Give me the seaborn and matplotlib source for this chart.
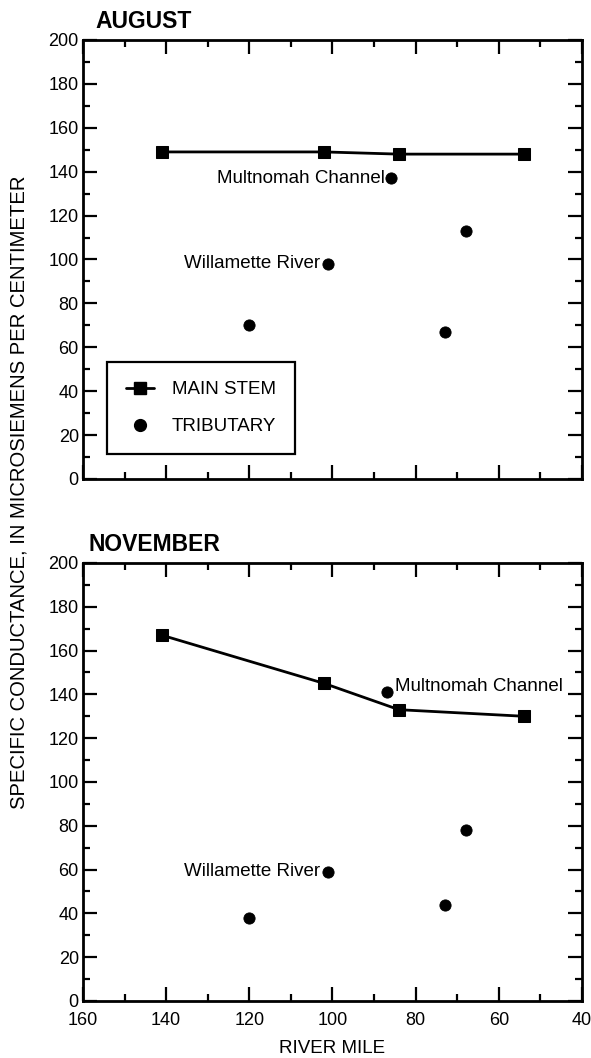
import numpy as np
import pandas as pd
import matplotlib
matplotlib.use("Agg")
import matplotlib.pyplot as plt
from matplotlib.lines import Line2D
from matplotlib.ticker import MultipleLocator
import seaborn as sns

sns.set_theme(style="white")
plt.rcParams["font.family"] = ["Liberation Sans", "DejaVu Sans"]
plt.rcParams.update({
    "text.color": "black",
    "axes.labelcolor": "black",
    "xtick.color": "black",
    "ytick.color": "black",
})

# Main-stem stations (river mile) and specific conductance
main_mile = [141, 102, 84, 54]
main_aug = [149, 149, 148, 148]
main_nov = [167, 145, 133, 130]

# Tributary stations
trib_mile = [120, 101, 86, 73, 68]
trib_aug = [70, 98, 137, 67, 113]
trib_mile_nov = [120, 101, 87, 73, 68]
trib_nov = [38, 59, 141, 44, 78]

fig = plt.figure(figsize=(5.91, 10.58), dpi=100)
ax_top = fig.add_axes([0.1404, 0.5473, 0.8443, 0.4149])
ax_bot = fig.add_axes([0.1404, 0.0539, 0.8443, 0.4140])


def style_axes(ax, show_xlabels):
    ax.set_xlim(160, 40)
    ax.set_ylim(0, 200)
    ax.xaxis.set_major_locator(MultipleLocator(20))
    ax.xaxis.set_minor_locator(MultipleLocator(10))
    ax.yaxis.set_major_locator(MultipleLocator(20))
    ax.yaxis.set_minor_locator(MultipleLocator(10))
    ax.tick_params(which="both", direction="in", top=True, right=True,
                   bottom=True, left=True, color="black", width=1.6)
    ax.tick_params(which="major", length=10, labelsize=13)
    ax.tick_params(which="minor", length=5)
    ax.tick_params(axis="y", which="major", pad=3)
    ax.tick_params(axis="x", which="major", pad=8)
    if not show_xlabels:
        ax.tick_params(labelbottom=False)
    for sp in ax.spines.values():
        sp.set_color("black")
        sp.set_linewidth(2)
    ax.set_xlabel("")
    ax.set_ylabel("")
    ax.grid(False)


def draw_panel(ax, main_y, trib_x, trib_y):
    main_df = pd.DataFrame({"mile": main_mile, "sc": main_y})
    trib_df = pd.DataFrame({"mile": trib_x, "sc": trib_y})
    sns.lineplot(data=main_df, x="mile", y="sc", ax=ax, color="black",
                 lw=2, marker="s", markersize=9, markeredgecolor="black",
                 sort=False, zorder=3)
    sns.scatterplot(data=trib_df, x="mile", y="sc", ax=ax, color="black",
                    s=65, marker="o", edgecolor="black", zorder=4)


# August
draw_panel(ax_top, main_aug, trib_mile, trib_aug)
style_axes(ax_top, False)
ax_top.text(trib_mile[2] + 1.5, trib_aug[2], "Multnomah Channel", ha="right",
            va="center", fontsize=13.5)
ax_top.text(trib_mile[1] + 2.0, trib_aug[1], "Willamette River", ha="right",
            va="center", fontsize=13.5)
ax_top.text(0.025, 1.015, "AUGUST", transform=ax_top.transAxes, fontsize=16.5,
            fontweight="bold", ha="left", va="bottom")

handles = [
    Line2D([], [], color="black", lw=2, marker="s", markersize=9),
    Line2D([], [], color="none", marker="o", markersize=8.5,
           markerfacecolor="black", markeredgecolor="black"),
]
leg = ax_top.legend(handles, ["MAIN STEM", "TRIBUTARY"], loc="lower left",
                    bbox_to_anchor=(0.048, 0.057), fontsize=13.5,
                    frameon=True, fancybox=False, edgecolor="black",
                    framealpha=1.0, shadow=False,
                    handlelength=1.5, borderpad=1.0, labelspacing=1.05,
                    handletextpad=0.95, borderaxespad=0)
leg.get_frame().set_linewidth(1.6)
leg.get_frame().set_edgecolor("black")

# November
draw_panel(ax_bot, main_nov, trib_mile_nov, trib_nov)
style_axes(ax_bot, True)
ax_bot.text(trib_mile_nov[2] - 2.0, trib_nov[2] + 2.5, "Multnomah Channel",
            ha="left", va="center", fontsize=13.5)
ax_bot.text(trib_mile_nov[1] + 2.0, trib_nov[1], "Willamette River",
            ha="right", va="center", fontsize=13.5)
ax_bot.text(0.012, 1.015, "NOVEMBER", transform=ax_bot.transAxes,
            fontsize=16.5, fontweight="bold", ha="left", va="bottom")
ax_bot.set_xlabel("RIVER MILE", fontsize=13.5, labelpad=8)

fig.text(0.032, 0.535, "SPECIFIC CONDUCTANCE, IN MICROSIEMENS PER CENTIMETER",
         rotation=90, ha="center", va="center", fontsize=14.6)

fig.savefig("out.png", dpi=100, facecolor="white")
